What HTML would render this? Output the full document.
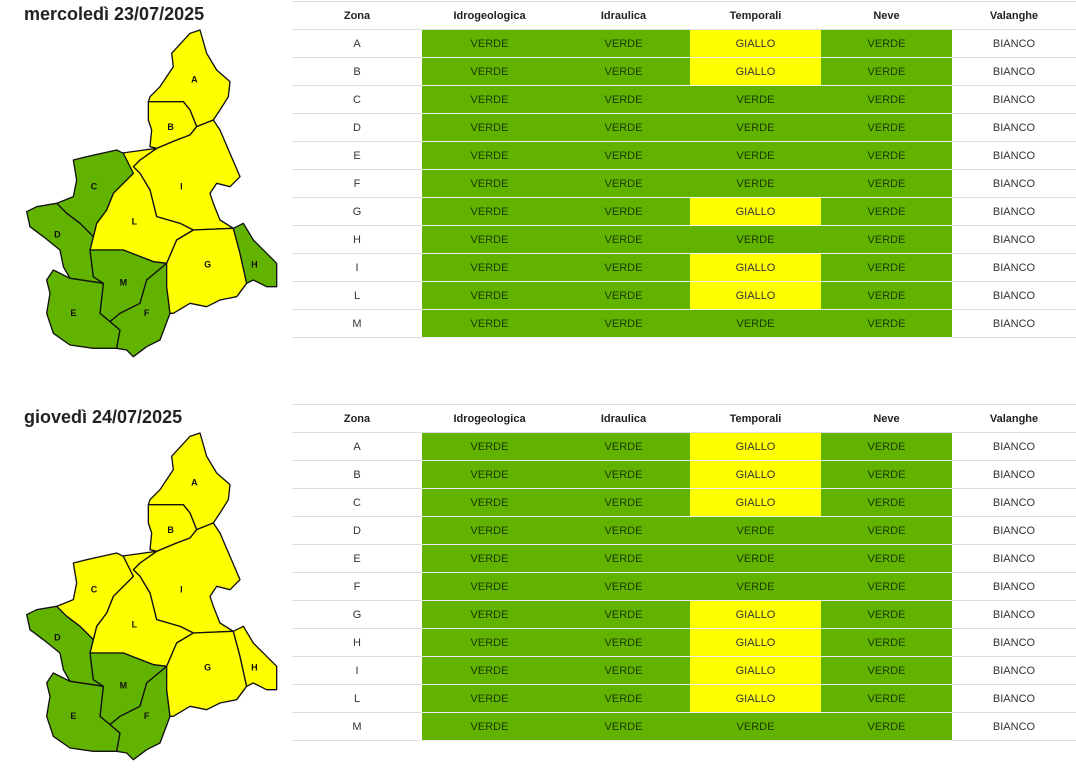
<!DOCTYPE html>
<html><head><meta charset="utf-8"><style>
body{margin:0;width:1076px;height:776px;background:#fff;font-family:"Liberation Sans",sans-serif;position:relative;overflow:hidden}
.t{position:absolute;left:24px;font-weight:bold;font-size:18px;color:#222}
table{position:absolute;left:292px;border-collapse:collapse;table-layout:fixed;font-size:11px;color:#333}
td,th{height:27px;text-align:center;padding:0;border-bottom:1px solid #ddd}
th{font-weight:bold;color:#222}
thead tr{border-top:1px solid #ddd}
.v{background:#62b300;border-bottom:1px solid #eee;color:#1a3a00}
.g{background:#ffff00;border-bottom:1px solid #eee}
svg{position:absolute;left:20px}
</style></head><body>
<div class="t" style="top:4px">mercoledì 23/07/2025</div>
<div class="t" style="top:407px">giovedì 24/07/2025</div>

<svg style="top:20px" width="270" height="345" viewBox="0 0 810 1035">
<g stroke="#111" stroke-width="4" stroke-linejoin="round">
<polygon fill="#ff0" points="540,30 560,100 590,150 630,185 625,230 600,270 580,300 530,320 510,270 490,245 400,250 385,245 390,230 420,200 460,140 455,100 510,40"/>
<polygon fill="#ff0" points="385,245 490,245 510,270 530,320 510,345 470,360 410,385 390,380 395,330 385,300"/>
<polygon fill="#ff0" points="530,320 580,300 600,330 630,400 660,470 630,500 590,490 570,520 580,550 600,600 640,625 520,630 480,610 410,590 390,510 360,460 340,440 360,420 410,385 470,360 510,345"/>
<polygon fill="#ff0" points="300,400 410,385 360,420 340,440 360,460 390,510 410,590 480,610 520,630 470,660 440,730 400,725 310,690 210,690 220,650 230,610 260,570 280,520 340,460"/>
<polygon fill="#62b300" points="160,420 200,410 290,390 310,400 340,460 280,520 260,570 230,610 220,650 180,610 140,580 110,550 160,530 170,480"/>
<polygon fill="#62b300" points="20,575 50,560 110,550 140,580 180,610 220,650 210,690 220,770 250,790 150,775 130,740 120,690 70,650 30,620"/>
<polygon fill="#62b300" points="210,690 310,690 400,725 440,730 380,780 360,850 300,880 270,905 240,880 250,790 220,770"/>
<polygon fill="#62b300" points="80,780 100,750 150,775 250,790 240,880 270,905 300,930 290,985 220,985 150,975 100,940 80,880 90,820"/>
<polygon fill="#62b300" points="440,730 440,800 450,880 420,960 380,980 340,1010 320,990 290,985 300,930 270,905 300,880 360,850 380,780"/>
<polygon fill="#ff0" points="520,630 640,625 660,700 680,790 650,830 600,840 560,860 510,850 460,880 450,880 440,800 440,730 470,660"/>
<polygon fill="#62b300" points="640,625 670,610 700,660 740,700 770,730 770,800 740,800 700,780 680,790 660,700"/>
</g>
<g font-family="Liberation Sans" font-weight="bold" font-size="27" text-anchor="middle" fill="#111">
<text x="523" y="188">A</text><text x="452" y="330">B</text><text x="484" y="508">I</text><text x="222" y="508">C</text><text x="343" y="613">L</text><text x="112" y="653">D</text><text x="563" y="743">G</text><text x="703" y="743">H</text><text x="310" y="796">M</text><text x="160" y="888">E</text><text x="380" y="888">F</text>
</g></svg>

<svg style="top:423px" width="270" height="345" viewBox="0 0 810 1035">
<g stroke="#111" stroke-width="4" stroke-linejoin="round">
<polygon fill="#ff0" points="540,30 560,100 590,150 630,185 625,230 600,270 580,300 530,320 510,270 490,245 400,250 385,245 390,230 420,200 460,140 455,100 510,40"/>
<polygon fill="#ff0" points="385,245 490,245 510,270 530,320 510,345 470,360 410,385 390,380 395,330 385,300"/>
<polygon fill="#ff0" points="530,320 580,300 600,330 630,400 660,470 630,500 590,490 570,520 580,550 600,600 640,625 520,630 480,610 410,590 390,510 360,460 340,440 360,420 410,385 470,360 510,345"/>
<polygon fill="#ff0" points="300,400 410,385 360,420 340,440 360,460 390,510 410,590 480,610 520,630 470,660 440,730 400,725 310,690 210,690 220,650 230,610 260,570 280,520 340,460"/>
<polygon fill="#ff0" points="160,420 200,410 290,390 310,400 340,460 280,520 260,570 230,610 220,650 180,610 140,580 110,550 160,530 170,480"/>
<polygon fill="#62b300" points="20,575 50,560 110,550 140,580 180,610 220,650 210,690 220,770 250,790 150,775 130,740 120,690 70,650 30,620"/>
<polygon fill="#62b300" points="210,690 310,690 400,725 440,730 380,780 360,850 300,880 270,905 240,880 250,790 220,770"/>
<polygon fill="#62b300" points="80,780 100,750 150,775 250,790 240,880 270,905 300,930 290,985 220,985 150,975 100,940 80,880 90,820"/>
<polygon fill="#62b300" points="440,730 440,800 450,880 420,960 380,980 340,1010 320,990 290,985 300,930 270,905 300,880 360,850 380,780"/>
<polygon fill="#ff0" points="520,630 640,625 660,700 680,790 650,830 600,840 560,860 510,850 460,880 450,880 440,800 440,730 470,660"/>
<polygon fill="#ff0" points="640,625 670,610 700,660 740,700 770,730 770,800 740,800 700,780 680,790 660,700"/>
</g>
<g font-family="Liberation Sans" font-weight="bold" font-size="27" text-anchor="middle" fill="#111">
<text x="523" y="188">A</text><text x="452" y="330">B</text><text x="484" y="508">I</text><text x="222" y="508">C</text><text x="343" y="613">L</text><text x="112" y="653">D</text><text x="563" y="743">G</text><text x="703" y="743">H</text><text x="310" y="796">M</text><text x="160" y="888">E</text><text x="380" y="888">F</text>
</g></svg>

<table style="top:1px">
<colgroup><col style="width:130px"><col style="width:135px"><col style="width:133px"><col style="width:131px"><col style="width:131px"><col style="width:124px"></colgroup>
<thead><tr><th>Zona</th><th>Idrogeologica</th><th>Idraulica</th><th>Temporali</th><th>Neve</th><th>Valanghe</th></tr></thead>
<tbody>
<tr><td>A</td><td class="v">VERDE</td><td class="v">VERDE</td><td class="g">GIALLO</td><td class="v">VERDE</td><td>BIANCO</td></tr>
<tr><td>B</td><td class="v">VERDE</td><td class="v">VERDE</td><td class="g">GIALLO</td><td class="v">VERDE</td><td>BIANCO</td></tr>
<tr><td>C</td><td class="v">VERDE</td><td class="v">VERDE</td><td class="v">VERDE</td><td class="v">VERDE</td><td>BIANCO</td></tr>
<tr><td>D</td><td class="v">VERDE</td><td class="v">VERDE</td><td class="v">VERDE</td><td class="v">VERDE</td><td>BIANCO</td></tr>
<tr><td>E</td><td class="v">VERDE</td><td class="v">VERDE</td><td class="v">VERDE</td><td class="v">VERDE</td><td>BIANCO</td></tr>
<tr><td>F</td><td class="v">VERDE</td><td class="v">VERDE</td><td class="v">VERDE</td><td class="v">VERDE</td><td>BIANCO</td></tr>
<tr><td>G</td><td class="v">VERDE</td><td class="v">VERDE</td><td class="g">GIALLO</td><td class="v">VERDE</td><td>BIANCO</td></tr>
<tr><td>H</td><td class="v">VERDE</td><td class="v">VERDE</td><td class="v">VERDE</td><td class="v">VERDE</td><td>BIANCO</td></tr>
<tr><td>I</td><td class="v">VERDE</td><td class="v">VERDE</td><td class="g">GIALLO</td><td class="v">VERDE</td><td>BIANCO</td></tr>
<tr><td>L</td><td class="v">VERDE</td><td class="v">VERDE</td><td class="g">GIALLO</td><td class="v">VERDE</td><td>BIANCO</td></tr>
<tr><td>M</td><td class="v">VERDE</td><td class="v">VERDE</td><td class="v">VERDE</td><td class="v">VERDE</td><td>BIANCO</td></tr>
</tbody></table>

<table style="top:404px">
<colgroup><col style="width:130px"><col style="width:135px"><col style="width:133px"><col style="width:131px"><col style="width:131px"><col style="width:124px"></colgroup>
<thead><tr><th>Zona</th><th>Idrogeologica</th><th>Idraulica</th><th>Temporali</th><th>Neve</th><th>Valanghe</th></tr></thead>
<tbody>
<tr><td>A</td><td class="v">VERDE</td><td class="v">VERDE</td><td class="g">GIALLO</td><td class="v">VERDE</td><td>BIANCO</td></tr>
<tr><td>B</td><td class="v">VERDE</td><td class="v">VERDE</td><td class="g">GIALLO</td><td class="v">VERDE</td><td>BIANCO</td></tr>
<tr><td>C</td><td class="v">VERDE</td><td class="v">VERDE</td><td class="g">GIALLO</td><td class="v">VERDE</td><td>BIANCO</td></tr>
<tr><td>D</td><td class="v">VERDE</td><td class="v">VERDE</td><td class="v">VERDE</td><td class="v">VERDE</td><td>BIANCO</td></tr>
<tr><td>E</td><td class="v">VERDE</td><td class="v">VERDE</td><td class="v">VERDE</td><td class="v">VERDE</td><td>BIANCO</td></tr>
<tr><td>F</td><td class="v">VERDE</td><td class="v">VERDE</td><td class="v">VERDE</td><td class="v">VERDE</td><td>BIANCO</td></tr>
<tr><td>G</td><td class="v">VERDE</td><td class="v">VERDE</td><td class="g">GIALLO</td><td class="v">VERDE</td><td>BIANCO</td></tr>
<tr><td>H</td><td class="v">VERDE</td><td class="v">VERDE</td><td class="g">GIALLO</td><td class="v">VERDE</td><td>BIANCO</td></tr>
<tr><td>I</td><td class="v">VERDE</td><td class="v">VERDE</td><td class="g">GIALLO</td><td class="v">VERDE</td><td>BIANCO</td></tr>
<tr><td>L</td><td class="v">VERDE</td><td class="v">VERDE</td><td class="g">GIALLO</td><td class="v">VERDE</td><td>BIANCO</td></tr>
<tr><td>M</td><td class="v">VERDE</td><td class="v">VERDE</td><td class="v">VERDE</td><td class="v">VERDE</td><td>BIANCO</td></tr>
</tbody></table>
</body></html>
